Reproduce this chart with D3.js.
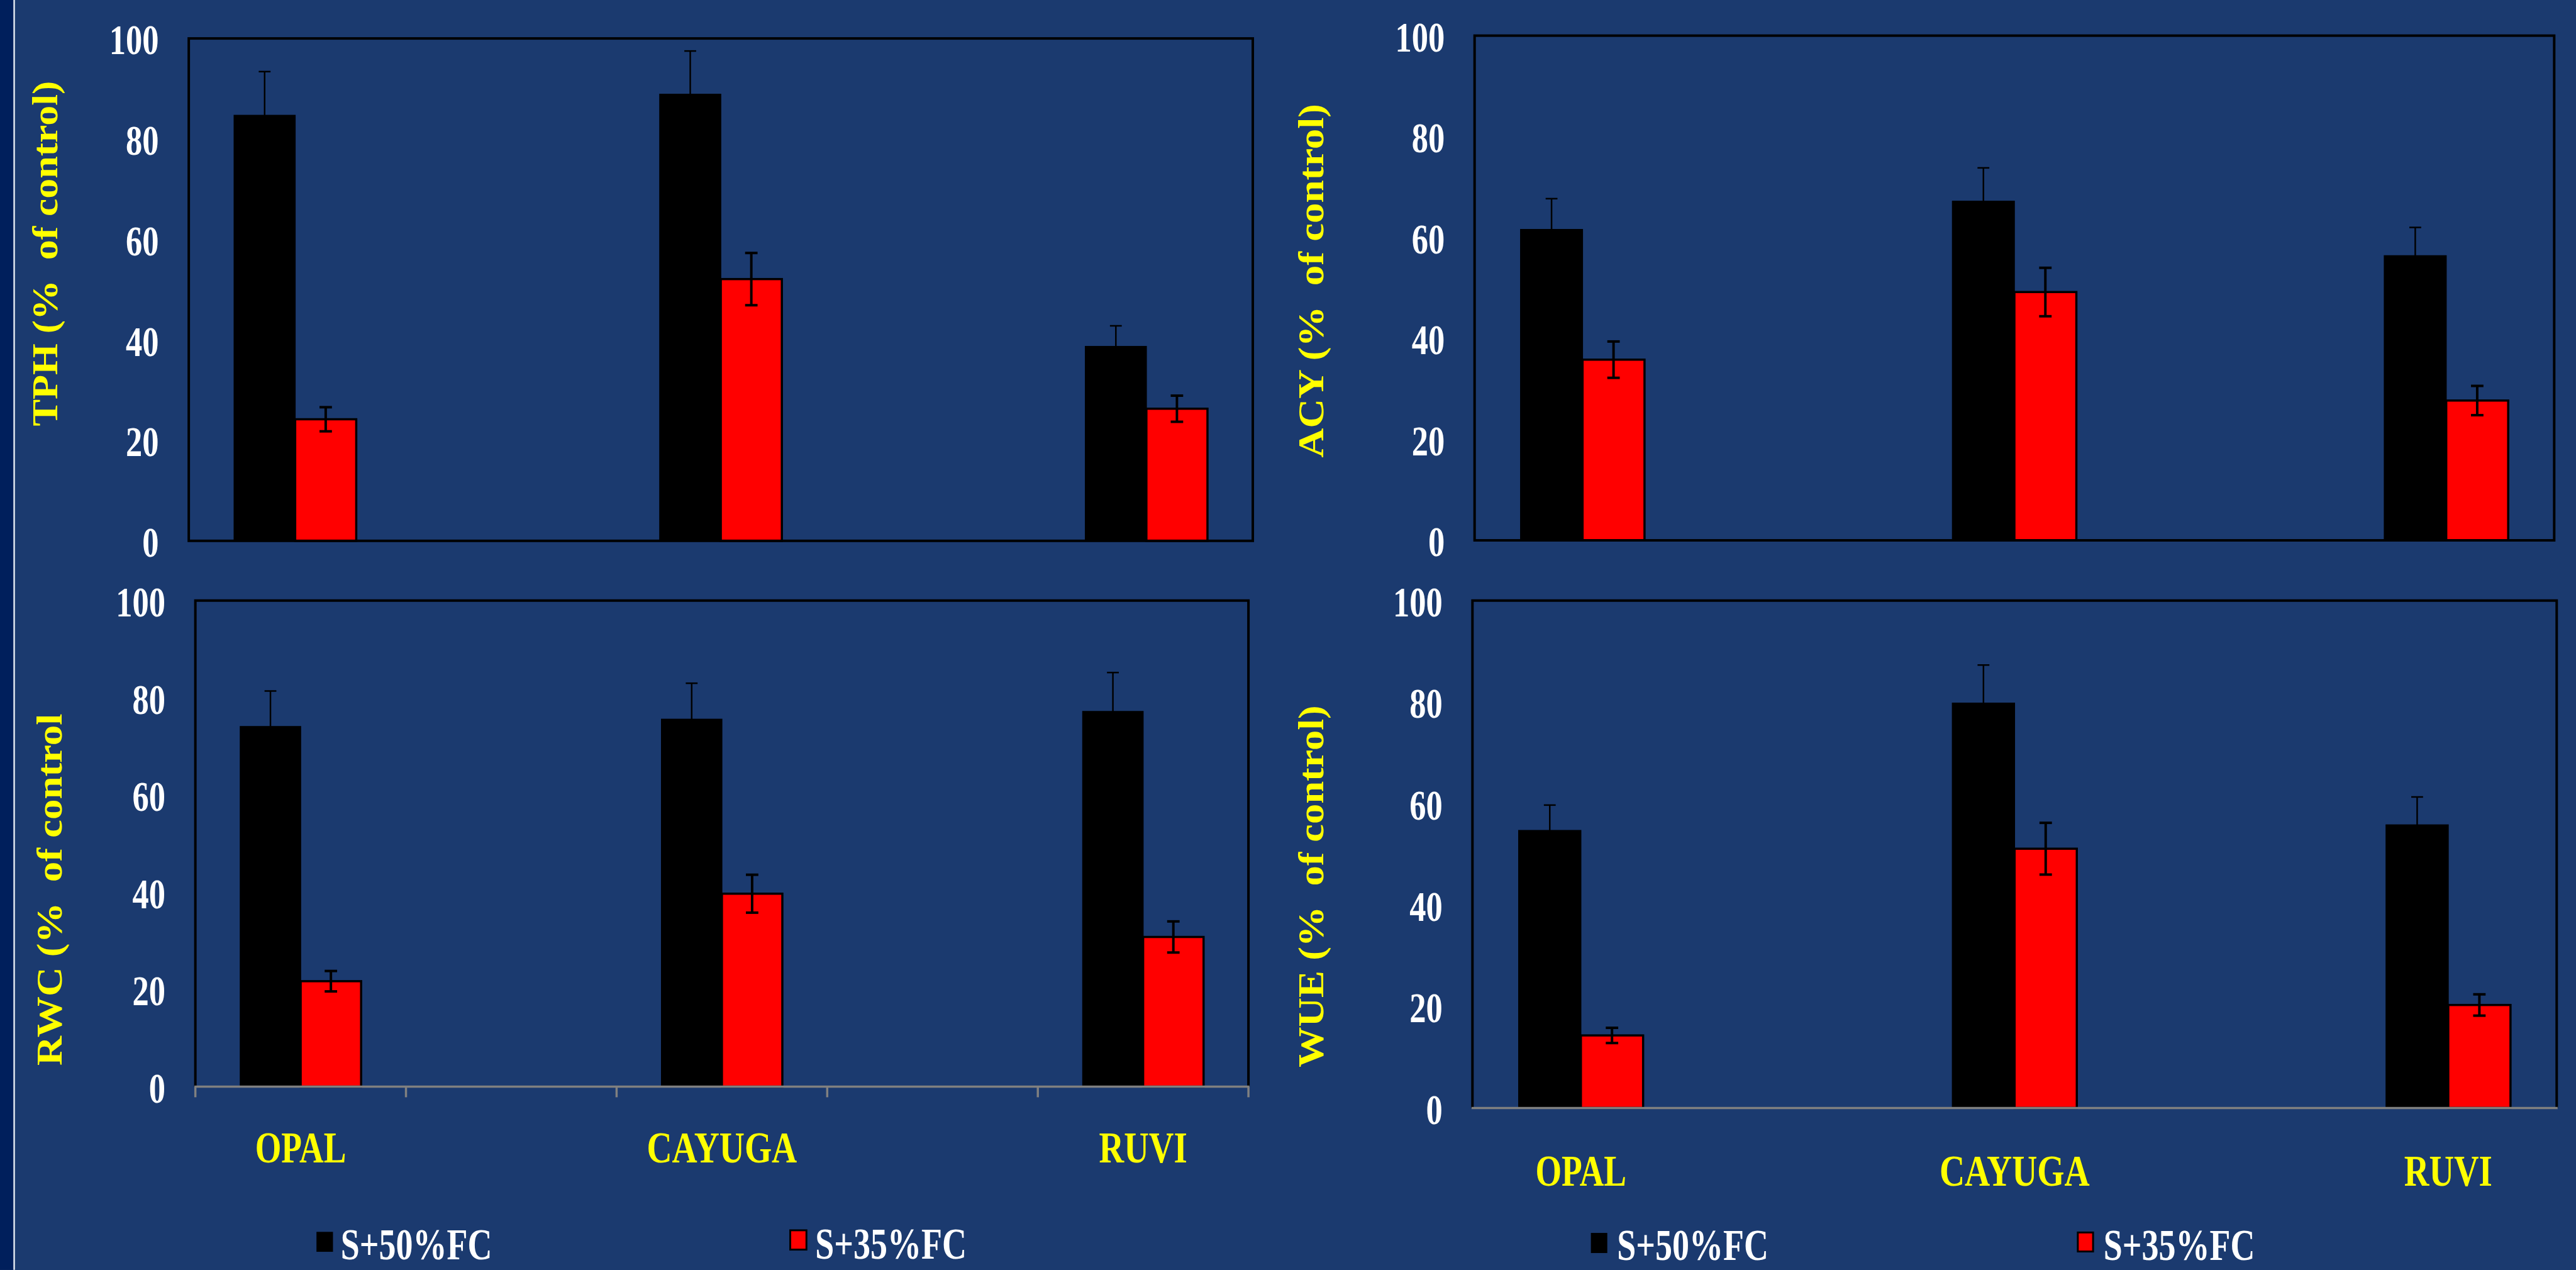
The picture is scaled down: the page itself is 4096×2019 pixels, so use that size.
<!DOCTYPE html>
<html><head><meta charset="utf-8">
<script src="https://cdn.jsdelivr.net/npm/d3@7"></script>
<style>
html,body{margin:0;padding:0;background:#1b3a6f;overflow:hidden}
text{font-family:"Liberation Serif","Times New Roman",serif;font-weight:bold;white-space:pre}
</style>
</head><body><svg id="c" width="4096" height="2019"></svg>
<script>
// ---------- data ----------
const categories = ["OPAL", "CAYUGA", "RUVI"];
const seriesNames = ["S+50%FC", "S+35%FC"];
const yTickValues = [0, 20, 40, 60, 80, 100];
const panelKeys = ["TPH", "ACY", "RWC", "WUE"];
const yAxisTitles = ["TPH (%  of control)", "ACY (%  of control)", "RWC (%  of control", "WUE (%  of control)"];

const tph50 = [84.7, 88.9, 38.7];  const tph50Err = [8.7, 8.6, 4.1];
const tph35 = [24.2, 52.1, 26.3];  const tph35Err = [2.4, 5.2, 2.6];
const acy50 = [61.6, 67.2, 56.4];  const acy50Err = [6.1, 6.6, 5.6];
const acy35 = [35.8, 49.2, 27.7];  const acy35Err = [3.6, 4.8, 2.9];
const rwc50 = [74.1, 75.6, 77.2];  const rwc50Err = [7.3, 7.4, 8.0];
const rwc35 = [21.7, 39.7, 30.8];  const rwc35Err = [2.1, 3.9, 3.2];
const wue50 = [54.7, 79.8, 55.8];  const wue50Err = [5.0, 7.5, 5.5];
const wue35 = [14.3, 51.1, 20.3];  const wue35Err = [1.5, 5.1, 2.1];

// ---------- layout (reference pixel space) ----------
const REF_W = 4135, OUT_W = 4096;
const S = OUT_W / REF_W;
const seriesColors = ["#000000", "#ff0000"];
const panels = [
  {key:"TPH", x0:303,   x1:2011, yTop:61.7,  yZero:868,    labX:91.5,   labCY:407,    labLen:554,   axis:"frame", catY:null,
   v50:tph50, e50:tph50Err, v35:tph35, e35:tph35Err},
  {key:"ACY", x0:2367,  x1:4100, yTop:57.2,  yZero:867.2,  labX:2123.7, labCY:450.6,  labLen:568,   axis:"frame", catY:null,
   v50:acy50, e50:acy50Err, v35:acy35, e35:acy35Err},
  {key:"RWC", x0:313.6, x1:2004, yTop:963.9, yZero:1744,   labX:99.3,   labCY:1427.8, labLen:564.5, axis:"ticks", catY:1866,
   v50:rwc50, e50:rwc50Err, v35:rwc35, e35:rwc35Err},
  {key:"WUE", x0:2363.6,x1:4104, yTop:963.9, yZero:1778.2, labX:2123.7, labCY:1422.6, labLen:581,   axis:"gray",  catY:1903,
   v50:wue50, e50:wue50Err, v35:wue35, e35:wue35Err},
];
const catLabelLen = {OPAL:146, CAYUGA:241, RUVI:141.5};
const legendLayout = [
  [{sx:508, sy:1977, sw:26.5, sh:32, tx:547, ty:2021}, {sx:1268.5, sy:1974.5, sw:26, sh:31, tx:1308.5, ty:2020}],
  [{sx:2553.7, sy:1978.7, sw:26.3, sh:32.3, tx:2595.8, ty:2022}, {sx:3335.3, sy:1978, sw:24.5, sh:30.5, tx:3376.6, ty:2022}]
];

// ---------- draw ----------
const svg = d3.select("#c");
svg.append("rect").attr("width", 4096).attr("height", 2019).attr("fill", "#1b3a6f");
const root = svg.append("g").attr("transform", `scale(${S})`);
root.append("rect").attr("x", 0).attr("y", 0).attr("width", 21).attr("height", 2038).attr("fill", "#001f5c");
root.append("rect").attr("x", 21.5).attr("y", 0).attr("width", 2.5).attr("height", 2038).attr("fill", "#dfe5ee");

panels.forEach((p, pi) => {
  const g = root.append("g");
  const y = d3.scaleLinear().domain([0, 100]).range([p.yZero, p.yTop]);
  const x = d3.scalePoint().domain(categories).range([p.x0, p.x1]).padding(0.25);
  const bw = x.step() * 0.1435;

  // bars
  const rows = categories.map((c, i) => ({c, i, v50:p.v50[i], e50:p.e50[i], v35:p.v35[i], e35:p.e35[i]}));
  g.selectAll("rect.b50").data(rows).join("rect")
    .attr("x", d => x(d.c) - bw).attr("width", bw)
    .attr("y", d => y(d.v50)).attr("height", d => y(0) - y(d.v50))
    .attr("fill", seriesColors[0]).attr("stroke", "#000").attr("stroke-width", 1.5);
  g.selectAll("rect.b35").data(rows).join("rect")
    .attr("x", d => x(d.c)).attr("width", bw)
    .attr("y", d => y(d.v35)).attr("height", d => y(0) - y(d.v35))
    .attr("fill", seriesColors[1]).attr("stroke", "#000").attr("stroke-width", 3.5);

  // error bars
  const eb = (cx, v, e, sw, capW) => {
    const eg = g.append("g").attr("stroke", "#000").attr("stroke-width", sw);
    eg.append("line").attr("x1", cx).attr("x2", cx).attr("y1", y(v - e)).attr("y2", y(v + e));
    eg.append("line").attr("x1", cx - capW/2).attr("x2", cx + capW/2).attr("y1", y(v + e)).attr("y2", y(v + e));
    eg.append("line").attr("x1", cx - capW/2).attr("x2", cx + capW/2).attr("y1", y(v - e)).attr("y2", y(v - e));
  };
  rows.forEach(d => {
    eb(x(d.c) - bw/2, d.v50, d.e50, 2.5, 19);
    eb(x(d.c) + bw/2, d.v35, d.e35, 4, 20);
  });

  // frame / axes
  if (p.axis === "frame") {
    g.append("rect").attr("x", p.x0).attr("y", p.yTop).attr("width", p.x1 - p.x0).attr("height", p.yZero - p.yTop)
      .attr("fill", "none").attr("stroke", "#000").attr("stroke-width", 4);
  } else {
    g.append("path").attr("d", `M${p.x0},${p.yZero}V${p.yTop}H${p.x1}V${p.yZero}`)
      .attr("fill", "none").attr("stroke", "#000").attr("stroke-width", 4);
    g.append("line").attr("x1", p.x0 - 1.5).attr("x2", p.x1 + 1.5).attr("y1", p.yZero).attr("y2", p.yZero)
      .attr("stroke", "#808080").attr("stroke-width", 3.5);
    if (p.axis === "ticks") {
      const xt = d3.scaleLinear().domain([0, 5]).range([p.x0, p.x1]);
      g.selectAll("line.xt").data(xt.ticks(5)).join("line")
        .attr("x1", d => xt(d)).attr("x2", d => xt(d)).attr("y1", p.yZero).attr("y2", p.yZero + 17)
        .attr("stroke", "#808080").attr("stroke-width", 3.5);
    }
  }

  // y tick labels
  g.selectAll("text.yt").data(yTickValues).join("text")
    .attr("x", p.x0 - 48).attr("y", d => y(d) + 25.5)
    .attr("text-anchor", "end").attr("fill", "#ffffff").attr("font-size", 68)
    .attr("textLength", d => String(d).length * 26.5).attr("lengthAdjust", "spacingAndGlyphs")
    .text(d => d);

  // y axis title
  g.append("text")
    .attr("transform", `translate(${p.labX},${p.labCY}) rotate(-90)`)
    .attr("text-anchor", "middle").attr("fill", "#ffff00").attr("font-size", 58)
    .attr("textLength", p.labLen).attr("lengthAdjust", "spacingAndGlyphs")
    .text(yAxisTitles[pi]);

  // category labels
  if (p.catY !== null) {
    g.selectAll("text.cat").data(categories).join("text")
      .attr("x", d => x(d) - (catLabelLen[d] / 2)).attr("y", p.catY)
      .attr("fill", "#ffff00").attr("font-size", 69.5)
      .attr("textLength", d => catLabelLen[d]).attr("lengthAdjust", "spacingAndGlyphs")
      .text(d => d);
  }
});

// legends
legendLayout.forEach(items => {
  items.forEach((it, si) => {
    root.append("rect").attr("x", it.sx).attr("y", it.sy).attr("width", it.sw).attr("height", it.sh)
      .attr("fill", seriesColors[si]).attr("stroke", "#000").attr("stroke-width", si === 1 ? 3 : 0);
    root.append("text").attr("x", it.tx).attr("y", it.ty).attr("fill", "#ffffff").attr("font-size", 70)
      .attr("textLength", 243).attr("lengthAdjust", "spacingAndGlyphs").text(seriesNames[si]);
  });
});
</script></body></html>
